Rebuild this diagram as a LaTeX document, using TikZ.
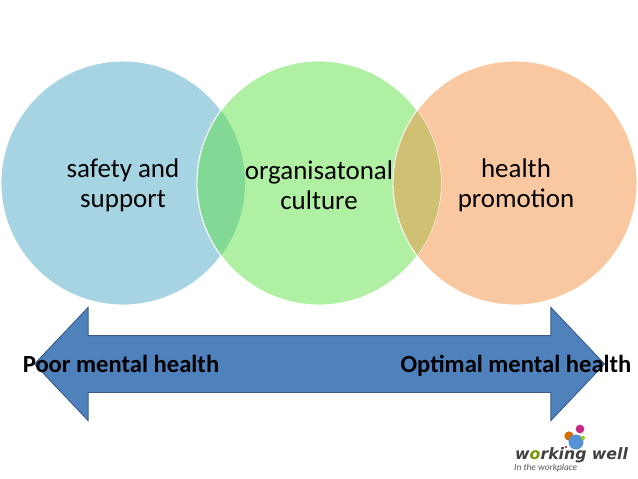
\documentclass[tikz,border=0pt]{standalone}
\usepackage{fontspec}
\setmainfont{Carlito}
\newfontfamily\brandfont{DejaVu Sans}
\usepackage{xcolor}
\usetikzlibrary{shapes.arrows}
\definecolor{safetyblue}{RGB}{166,212,227}
\definecolor{culturegreen}{RGB}{176,240,162}
\definecolor{promoorange}{RGB}{250,200,160}
\definecolor{lensgreen}{RGB}{130,217,150}
\definecolor{lensolive}{RGB}{208,192,115}
\definecolor{bandblue}{RGB}{79,129,189}
\definecolor{bandedge}{RGB}{56,93,138}
\begin{document}
\begin{tikzpicture}[x=0.03cm,y=-0.03cm,
  venn/.style={circle, draw=white, thick, inner sep=0pt, minimum size=7.32cm},
  venntext/.style={font=\fontsize{23}{25.5}\selectfont, align=center, inner sep=0pt},
  band/.style={double arrow, draw=bandedge, thick, fill=bandblue, inner sep=0pt,
    minimum height=17.1cm, double arrow head extend=0.84cm, double arrow tip angle=93},
  endlabel/.style={font=\fontsize{21}{24}\selectfont\bfseries, inner sep=0pt, anchor=base},
  dot/.style={circle, inner sep=0pt}
]
\useasboundingbox (0,0) rectangle (638,479);
\fill[white] (0,0) rectangle (638,479);
\node[venn, fill=safetyblue] (safety) at (123,183) {};
\node[venn, fill=promoorange] (promotion) at (515,183) {};
\node[venn, fill=culturegreen] (culture) at (319,183) {};
% lens overlaps
\begin{scope}
  \clip (safety.center) circle (3.66cm);
  \fill[lensgreen] (culture.center) circle (3.66cm);
\end{scope}
\begin{scope}
  \clip (promotion.center) circle (3.66cm);
  \fill[lensolive] (culture.center) circle (3.66cm);
\end{scope}
\draw[white, thick] (culture.center) ++(125:3.66cm) arc (125:235:3.66cm);
\draw[white, thick] (promotion.center) ++(125:3.66cm) arc (125:235:3.66cm);
\node[venntext] (safetytext) at (123,185) {safety and\\support};
\node[venntext] (culturetext) at (319,185) {organisatonal\\culture};
\node[venntext] (promotext) at (516,185) {health\\promotion};

\node[band] (range) at (319.5,364) {\rule{0pt}{1.68cm}};
\node[endlabel] (poor) at (121,372) {Poor mental health};
\node[endlabel] (optimal) at (516,372) {Optimal mental health};

% logo
\node[dot, fill=magenta!80!black, minimum size=0.26cm] (dota) at (580,429) {};
\node[dot, fill=orange!85!black, minimum size=0.28cm] (dotb) at (569,436) {};
\node[dot, fill=cyan!55!blue!70, minimum size=0.45cm] (dotc) at (576,442) {};
\node[dot, fill=lime!80!black, minimum size=0.12cm] (dotd) at (583,438) {};
\node[dot, fill=red!70!black, minimum size=0.07cm] (dote) at (566,447) {};
\node[font=\fontsize{13.4}{13.4}\brandfont\bfseries\itshape, text=black!75, inner sep=0pt, anchor=base west] (brand) at (515,459.5) {w\textcolor{lime!60!black}{o}rking well};
\node[font=\fontsize{8}{8}\selectfont\itshape, text=black!65, inner sep=0pt, anchor=base west] (tagline) at (514,470) {In the workplace};
\end{tikzpicture}
\end{document}
